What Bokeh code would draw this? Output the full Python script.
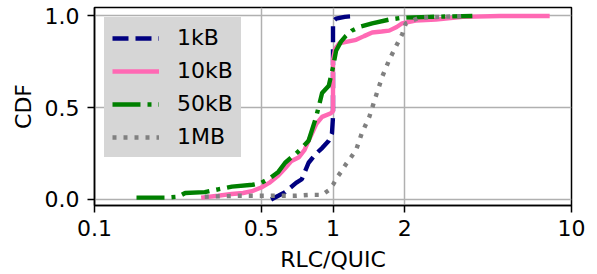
from bokeh.plotting import figure
from bokeh.models import FixedTicker, Range1d, Legend, LegendItem
from bokeh.embed import file_html
from bokeh.resources import INLINE

# ---- data ----
x_1kB = [0.55, 0.59, 0.63, 0.70, 0.74, 0.79, 0.85, 0.90, 0.96, 0.99, 1.0, 1.0, 1.03, 1.12, 1.25]
y_1kB = [0.0, 0.02, 0.04, 0.09, 0.11, 0.20, 0.25, 0.28, 0.32, 0.36, 0.45, 0.97, 0.985, 0.995, 1.0]

x_10kB = [0.28, 0.33, 0.376, 0.42, 0.457, 0.50, 0.54, 0.59, 0.63, 0.67, 0.72, 0.76, 0.79, 0.85,
          0.90, 0.98, 1.0, 1.0, 1.02, 1.06, 1.15, 1.25, 1.35, 1.46, 1.6, 1.72, 1.85, 1.95, 2.22,
          2.7, 3.5, 5.0, 8.1]
y_10kB = [0.01, 0.02, 0.03, 0.035, 0.045, 0.065, 0.09, 0.13, 0.17, 0.21, 0.23, 0.27, 0.32, 0.41,
          0.45, 0.47, 0.48, 0.76, 0.82, 0.85, 0.86, 0.87, 0.89, 0.91, 0.915, 0.92, 0.94, 0.96, 0.975,
          0.98, 0.995, 1.0, 1.0]

x_50kB = [0.15, 0.2, 0.225, 0.24, 0.29, 0.33, 0.377, 0.46, 0.50, 0.55, 0.59, 0.63, 0.67, 0.70,
          0.74, 0.79, 0.85, 0.90, 0.96, 1.0, 1.03, 1.08, 1.13, 1.2, 1.29, 1.46, 1.72, 1.95, 2.53, 3.84]
y_50kB = [0.01, 0.01, 0.015, 0.035, 0.04, 0.055, 0.07, 0.08, 0.09, 0.12, 0.15, 0.20, 0.23, 0.25,
          0.28, 0.32, 0.45, 0.58, 0.62, 0.72, 0.81, 0.86, 0.89, 0.92, 0.94, 0.96, 0.98, 0.99, 0.995, 1.0]

x_1MB = [0.29, 0.4, 0.5, 0.6, 0.7, 0.8, 0.9, 0.96, 1.0, 1.04, 1.08, 1.13, 1.19, 1.25, 1.32, 1.42,
         1.51, 1.61, 1.72, 1.83, 1.95, 2.02, 2.3, 2.8, 3.6]
y_1MB = [0.015, 0.02, 0.02, 0.02, 0.02, 0.025, 0.025, 0.05, 0.08, 0.12, 0.15, 0.19, 0.23, 0.27,
         0.36, 0.45, 0.56, 0.67, 0.76, 0.83, 0.90, 0.96, 0.99, 0.995, 1.0]

series_names = ["1kB", "10kB", "50kB", "1MB"]
x_ticks = [0.1, 0.5, 1, 2, 10]
x_tick_labels = ["0.1", "0.5", "1", "2", "10"]
y_ticks = [0.0, 0.5, 1.0]
y_tick_labels = ["0.0", "0.5", "1.0"]

FONT = "DejaVu Sans"
FS = "22px"

p = figure(
    x_axis_type="log",
    frame_width=477, frame_height=198,
    min_border_left=94, min_border_right=15, min_border_top=7, min_border_bottom=55,
    output_backend="svg", toolbar_location=None,
    x_range=Range1d(0.1, 10), y_range=Range1d(-0.033, 1.046),
)

p.outline_line_color = "black"
p.outline_line_width = 1.5

for ax in (p.xaxis[0], p.yaxis[0]):
    ax.axis_line_color = "black"
    ax.axis_line_width = 1.5
    ax.major_tick_line_width = 1.5
    ax.major_tick_in = 0
    ax.major_tick_out = 7
    ax.minor_tick_line_color = None
    ax.major_label_text_font = FONT
    ax.major_label_text_font_size = FS
    ax.major_label_text_color = "black"
    ax.axis_label_text_font = FONT
    ax.axis_label_text_font_size = FS
    ax.axis_label_text_font_style = "normal"
    ax.axis_label_text_color = "black"

p.xaxis.ticker = FixedTicker(ticks=x_ticks)
p.xaxis.major_label_overrides = {t: l for t, l in zip(x_ticks, x_tick_labels)}
p.xaxis.axis_label = "RLC/QUIC"
p.xaxis.major_label_standoff = 7
p.xaxis.axis_label_standoff = 8

p.yaxis.ticker = FixedTicker(ticks=y_ticks)
p.yaxis.major_label_overrides = {t: l for t, l in zip(y_ticks, y_tick_labels)}
p.yaxis.axis_label = "CDF"
p.yaxis.major_label_standoff = 8
p.yaxis.axis_label_standoff = 6

p.xgrid.ticker = FixedTicker(ticks=x_ticks)
p.ygrid.ticker = FixedTicker(ticks=y_ticks)
for g in (p.xgrid[0], p.ygrid[0]):
    g.grid_line_color = "#b0b0b0"
    g.grid_line_width = 1.5

LW = 4.4
r1 = p.line(x_1kB, y_1kB, line_color="#000080", line_width=LW, line_dash="16 7")
r2 = p.line(x_10kB, y_10kB, line_color="#ff69b4", line_width=LW)
r3 = p.line(x_50kB, y_50kB, line_color="#008000", line_width=LW, line_dash="28 7 4 7")
r4 = p.line(x_1MB, y_1MB, line_color="#808080", line_width=LW, line_dash="4 7")

legend = Legend(
    items=[LegendItem(label=n, renderers=[r]) for n, r in zip(series_names, [r1, r2, r3, r4])],
    location="top_left",
    margin=10,
    padding=8,
    spacing=8,
    glyph_width=47,
    glyph_height=20,
    label_height=20,
    label_standoff=18,
    label_text_font=FONT,
    label_text_font_size=FS,
    label_text_color="black",
    background_fill_color="#d6d6d6",
    background_fill_alpha=1.0,
    border_line_alpha=0,
)
p.add_layout(legend, "center")

open("out.html", "w").write(file_html(p, INLINE))
